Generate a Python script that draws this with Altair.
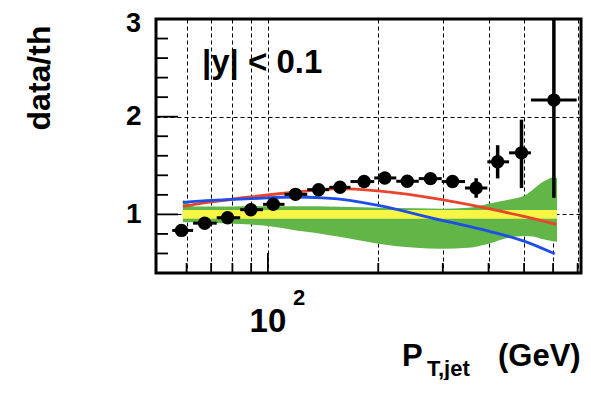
import altair as alt
import pandas as pd

# ---------------- data ----------------
pt_x = [58.1, 67.2, 77.6, 89.8, 103.4, 118.9, 137.5, 157.3, 183, 208.4, 240, 277.7, 319, 370, 423.5, 492, 603]
pt_y = [0.836, 0.91, 0.966, 1.048, 1.103, 1.205, 1.253, 1.277, 1.336, 1.373, 1.339, 1.366, 1.336, 1.27, 1.538, 1.63, 2.17]
pt_xlo = [54.8, 62.5, 72.5, 84, 97, 111, 128, 147, 168, 195, 224, 258, 298, 345, 397, 455, 522]
pt_xhi = [62.5, 72.5, 84, 97, 111, 128, 147, 168, 195, 224, 258, 298, 345, 397, 455, 522, 696]
pt_elo = [0.02] * 13 + [0.1, 0.17, 0.36, 1.0]
pt_ehi = [0.02] * 13 + [0.1, 0.17, 0.34, 1.0]

green_x = [58.6, 60, 63, 70, 80, 89.4, 100, 119.6, 135.5, 156.7, 180, 200, 253, 298.6, 352, 400, 453, 500, 535, 556, 581, 600, 615]
green_hi = [1.144, 1.13, 1.08, 1.08, 1.08, 1.082, 1.082, 1.082, 1.082, 1.078, 1.072, 1.068, 1.062, 1.058, 1.068, 1.11, 1.15, 1.19, 1.27, 1.32, 1.36, 1.38, 1.37]
green_lo = [0.92, 0.92, 0.92, 0.915, 0.905, 0.897, 0.88, 0.836, 0.81, 0.77, 0.73, 0.70, 0.658, 0.647, 0.658, 0.70, 0.76, 0.78, 0.77, 0.75, 0.735, 0.726, 0.72]

yellow_x = [58.6, 615]
yellow_lo = [0.955, 0.955]
yellow_hi = [1.045, 1.045]

red_x = [58.6, 70.1, 89.4, 119.6, 156.7, 200, 298.6, 400, 500, 612]
red_y = [1.082, 1.127, 1.178, 1.229, 1.264, 1.24, 1.15, 1.058, 0.979, 0.897]

blue_x = [58.6, 70.1, 89.4, 119.6, 141, 166.8, 200, 298.6, 400, 500, 606]
blue_y = [1.123, 1.144, 1.161, 1.178, 1.168, 1.144, 1.092, 0.938, 0.829, 0.726, 0.596]

x_grid = [60, 70, 80, 90, 100, 200, 300, 400, 500, 600, 700]
y_grid = [1, 2, 3]
y_minor = [0.4, 0.6, 0.8, 1.2, 1.4, 1.6, 1.8, 2.2, 2.4, 2.6, 2.8]
y_major = [1, 2]
x_major = [100]
x_minor = [60, 70, 80, 90, 200, 300, 400, 500, 600, 700]

FONT = "Liberation Sans"
W, H = 425, 254

xscale = alt.Scale(type="log", domain=[49.5, 715], nice=False)
yscale = alt.Scale(domain=[0.4, 3.0], nice=False, zero=False)

xax = alt.Axis(values=x_grid, grid=True, gridDash=[4, 3], gridColor="black", gridWidth=1, gridOpacity=1,
               labels=False, ticks=False, domain=False, title=None)
yax = alt.Axis(values=y_grid, grid=True, gridDash=[4, 3], gridColor="black", gridWidth=1, gridOpacity=1,
               ticks=False, domain=False, title=None, labelFont=FONT, labelFontSize=28,
               labelFontWeight="bold", labelColor="black", labelPadding=15, format="d",
               labelExpr="datum.value == 3 ? '' : datum.label")

pts = pd.DataFrame({"x": pt_x, "y": pt_y, "xlo": pt_xlo, "xhi": pt_xhi,
                    "ylo": [a - b for a, b in zip(pt_y, pt_elo)],
                    "yhi": [a + b for a, b in zip(pt_y, pt_ehi)]})
green = pd.DataFrame({"x": green_x, "lo": green_lo, "hi": green_hi})
yellow = pd.DataFrame({"x": yellow_x, "lo": yellow_lo, "hi": yellow_hi})
red = pd.DataFrame({"x": red_x, "y": red_y})
blue = pd.DataFrame({"x": blue_x, "y": blue_y})

X = lambda f: alt.X(f, type="quantitative", scale=xscale, axis=xax)
Y = lambda f: alt.Y(f, type="quantitative", scale=yscale, axis=yax)

green_l = alt.Chart(green).mark_area(color="#62b547", interpolate="monotone", opacity=1).encode(
    x=X("x"), y=Y("lo"), y2="hi")
yellow_l = alt.Chart(yellow).mark_area(color="#f7f545", opacity=1).encode(
    x=X("x"), y=Y("lo"), y2="hi")
red_l = alt.Chart(red).mark_line(color="#e8452c", strokeWidth=2.8, interpolate="monotone").encode(
    x=X("x"), y=Y("y"))
blue_l = alt.Chart(blue).mark_line(color="#1f4ee6", strokeWidth=2.8, interpolate="monotone").encode(
    x=X("x"), y=Y("y"))

herr = alt.Chart(pts).mark_rule(color="black", strokeWidth=3).encode(x=X("xlo"), x2="xhi", y=Y("y"))
verr = alt.Chart(pts).mark_rule(color="black", strokeWidth=3.5, clip=True).encode(x=X("x"), y=Y("ylo"), y2="yhi")
dots = alt.Chart(pts).mark_point(filled=True, shape="circle", size=180, color="black", opacity=1).encode(
    x=X("x"), y=Y("y"))

# inside ticks
ymin_df = pd.DataFrame({"v": y_minor})
ymaj_df = pd.DataFrame({"v": y_major})
xmin_df = pd.DataFrame({"v": x_minor})
xmaj_df = pd.DataFrame({"v": x_major})
ytick_min = alt.Chart(ymin_df).mark_rule(color="black", strokeWidth=1.8).encode(
    y=Y("v"), x=alt.value(0), x2=alt.value(12))
ytick_maj = alt.Chart(ymaj_df).mark_rule(color="black", strokeWidth=1.8).encode(
    y=Y("v"), x=alt.value(0), x2=alt.value(22))
xtick_min = alt.Chart(xmin_df).mark_rule(color="black", strokeWidth=1.8).encode(
    x=X("v"), y=alt.value(H), y2=alt.value(H - 10))
xtick_maj = alt.Chart(xmaj_df).mark_rule(color="black", strokeWidth=1.8).encode(
    x=X("v"), y=alt.value(H), y2=alt.value(H - 20))

# texts
def txt(s, x, y, size, align="left", angle=0, dx=0, baseline="alphabetic"):
    return alt.Chart(pd.DataFrame({"t": [s]})).mark_text(
        font=FONT, fontSize=size, fontWeight="bold", color="black", align=align,
        baseline=baseline, angle=angle, dx=dx).encode(x=x, y=y, text="t:N")

lab3 = txt("3", alt.value(-15), alt.value(5), 27, align="right", baseline="middle")
lab10 = txt("10", alt.X("v:Q", scale=xscale, axis=xax), alt.value(313), 33, align="center").transform_calculate(v="100")
lab2 = txt("2", alt.X("v:Q", scale=xscale, axis=xax), alt.value(286), 22, dx=25).transform_calculate(v="100")
ytitle = txt("data/th", alt.value(-106), alt.value(59), 32, align="center", angle=270)
xt_p = txt("P", alt.value(246), alt.value(347), 31)
xt_sub = txt("T,jet", alt.value(271), alt.value(357), 22)
xt_gev = txt("(GeV)", alt.value(342), alt.value(347), 31)
cut = txt("|y| < 0.1", alt.value(46), alt.value(54), 33)

chart = alt.layer(
    green_l, yellow_l, red_l, blue_l, herr, verr, dots,
    ytick_min, ytick_maj, xtick_min, xtick_maj,
    lab3, lab10, lab2, ytitle, xt_p, xt_sub, xt_gev, cut
).properties(
    width=W, height=H,
    padding={"left": 148, "top": 11, "right": 2, "bottom": 107},
    autosize=alt.AutoSizeParams(type="none"),
    background="white",
).configure_view(stroke="black", strokeWidth=3)

chart.save("out.html", embed_options={"renderer": "svg", "actions": False})
